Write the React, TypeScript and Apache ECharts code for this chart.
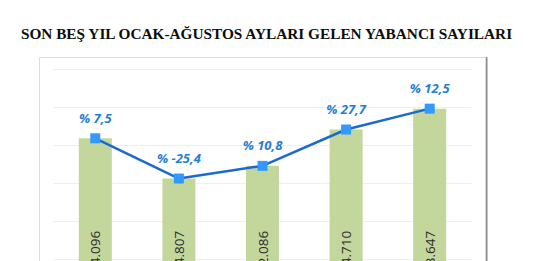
import React, { useEffect, useRef } from "react";
import * as echarts from "echarts";

const categories = ["2015", "2016", "2017", "2018", "2019"];
const visitors = [8354096, 6234807, 6902086, 8814710, 9913647];
const changeLabels = ["% 7,5", "% -25,4", "% 10,8", "% 27,7", "% 12,5"];
const titleText = "SON BEŞ YIL OCAK-AĞUSTOS AYLARI GELEN YABANCI SAYILARI";

const fmt = (v: number) => String(v).replace(/\B(?=(\d{3})+(?!\d))/g, ".");

export default function App() {
  const ref = useRef<HTMLDivElement>(null);
  useEffect(() => {
    if (!ref.current) return;
    const chart = echarts.init(ref.current, undefined, { renderer: "svg" });
    chart.setOption({
      animation: false,
      backgroundColor: "#ffffff",
      title: {
        text: titleText,
        left: "center",
        top: 21,
        textStyle: {
          fontFamily: "Liberation Serif",
          fontWeight: "bold",
          fontSize: 15.3,
          color: "#0d0d0d",
        },
      },
      graphic: [
        {
          type: "rect",
          z: -10,
          shape: { x: 39.5, y: 57.5, width: 446, height: 320 },
          style: {
            fill: "#ffffff",
            stroke: "#dcdcdc",
            lineWidth: 1,
            shadowColor: "rgba(0,0,0,0.45)",
            shadowBlur: 1,
            shadowOffsetX: 1.5,
            shadowOffsetY: 0,
          },
        },
      ],
      grid: { left: 53.5, right: 61.5, top: 69, bottom: 33 },
      xAxis: {
        type: "category",
        data: categories,
        axisLine: { show: false },
        axisTick: { show: false },
        axisLabel: { show: false },
      },
      yAxis: {
        type: "value",
        min: 0,
        max: 12000000,
        interval: 2000000,
        axisLabel: { show: false },
        axisLine: { show: false },
        axisTick: { show: false },
        splitLine: { lineStyle: { color: "#efefef", width: 1 } },
      },
      series: [
        {
          type: "bar",
          data: visitors,
          barWidth: 33,
          itemStyle: { color: "#c3d69b" },
          label: {
            show: true,
            position: "insideBottom",
            rotate: 90,
            align: "left",
            verticalAlign: "middle",
            distance: 5,
            formatter: (p: any) => fmt(p.value),
            fontFamily: "Open Sans",
            fontSize: 13.5,
            color: "#2b2b2b",
          },
        },
        {
          type: "line",
          data: visitors,
          symbol: "rect",
          symbolSize: 10,
          itemStyle: { color: "#3399ff" },
          lineStyle: { color: "#1a6ad2", width: 2.5 },
          label: {
            show: true,
            position: "top",
            distance: 9,
            formatter: (p: any) => changeLabels[p.dataIndex],
            fontFamily: "Open Sans",
            fontStyle: "italic",
            fontWeight: "bold",
            fontSize: 13,
            color: "#1f7ed6",
          },
          z: 5,
        },
      ],
    });
    return () => chart.dispose();
  }, []);
  return (
    <div
      ref={ref}
      style={{ position: "fixed", left: 0, top: 0, width: 533, height: 330 }}
    />
  );
}
